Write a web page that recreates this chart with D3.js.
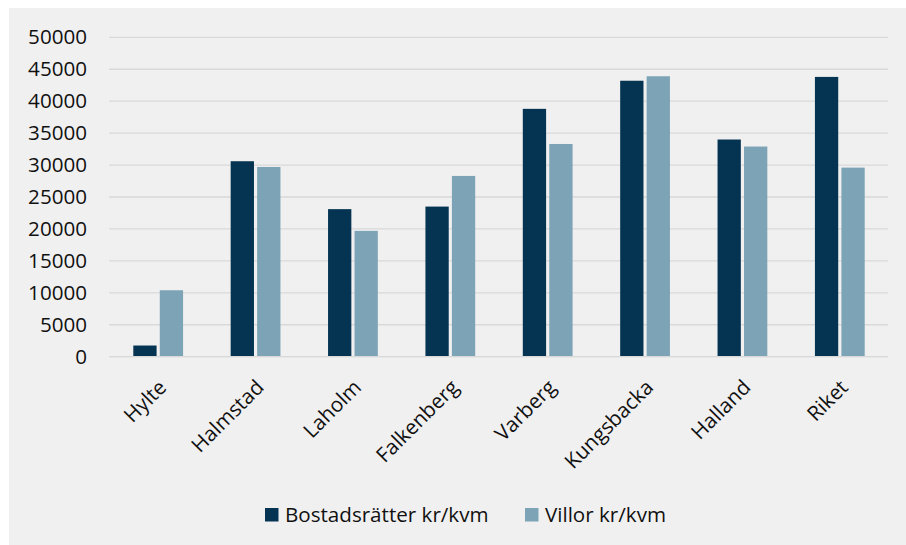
<!DOCTYPE html>
<html>
<head>
<meta charset="utf-8">
<script src="https://cdn.jsdelivr.net/npm/d3@7"></script>
<style>
  html, body { margin: 0; padding: 0; background: #ffffff; }
  svg { display: block; }
  text { font-family: "Open Sans", "Noto Sans", sans-serif; fill: #111111; }
</style>
</head>
<body>
<svg id="chart" width="906" height="545"></svg>
<script>
// Price per square metre by municipality
const categories = ["Hylte", "Halmstad", "Laholm", "Falkenberg", "Varberg", "Kungsbacka", "Halland", "Riket"];
const bostadsratter = [1750, 30600, 23100, 23500, 38800, 43200, 34000, 43800];
const villor = [10400, 29700, 19700, 28300, 33300, 43900, 32900, 29600];
const seriesNames = ["Bostadsrätter kr/kvm", "Villor kr/kvm"];
const seriesColors = ["#053452", "#7ca3b6"];
const yTicks = [0, 5000, 10000, 15000, 20000, 25000, 30000, 35000, 40000, 45000, 50000];

const svg = d3.select("#chart");
const W = 906, H = 545;
const FS = 20.6;

// panel background
svg.append("rect").attr("x", 9).attr("y", 8).attr("width", W - 9).attr("height", H - 8)
  .attr("fill", "#f0f0f0");

const plot = { left: 109, right: 888, top: 37.3, bottom: 356.7 };

const x = d3.scaleBand().domain(categories).range([plot.left, plot.right]).paddingInner(0).paddingOuter(0);
const x1 = d3.scaleBand().domain(seriesNames).range([24.3, x.bandwidth() - 23.3]).paddingInner(0.12);
const y = d3.scaleLinear().domain([0, 50000]).range([plot.bottom, plot.top]);

// gridlines
svg.append("g").selectAll("line").data(yTicks).join("line")
  .attr("x1", plot.left).attr("x2", plot.right)
  .attr("y1", d => y(d)).attr("y2", d => y(d))
  .attr("stroke", "#d9d9d9").attr("stroke-width", 1.3);

// y axis labels
const yAxis = d3.axisLeft(y).tickValues(yTicks).tickSize(0).tickPadding(0).tickFormat(d3.format("d"));
const gy = svg.append("g").attr("transform", `translate(${plot.left - 22},0)`).call(yAxis);
gy.select(".domain").remove();
gy.selectAll("text").attr("font-size", FS).attr("fill", "#111111")
  .style("font-family", "'Open Sans', sans-serif");

// bars
const rows = categories.map((c, i) => ({ c, vals: [bostadsratter[i], villor[i]] }));
const groups = svg.append("g").selectAll("g").data(rows).join("g")
  .attr("transform", d => `translate(${x(d.c)},0)`);
groups.selectAll("rect").data(d => d.vals.map((v, j) => ({ v, s: seriesNames[j], j })))
  .join("rect")
  .attr("x", d => x1(d.s))
  .attr("width", x1.bandwidth())
  .attr("y", d => y(d.v))
  .attr("height", d => y(0) - y(d.v))
  .attr("fill", d => seriesColors[d.j]);

// baseline
svg.append("line").attr("x1", plot.left).attr("x2", plot.right)
  .attr("y1", y(0)).attr("y2", y(0)).attr("stroke", "#d9d9d9").attr("stroke-width", 1.3);

// x axis labels, rotated
const xAxis = d3.axisBottom(x).tickSize(0).tickPadding(0);
const gx = svg.append("g").attr("transform", `translate(0,${plot.bottom})`).call(xAxis);
gx.select(".domain").remove();
gx.selectAll("text")
  .attr("font-size", FS).attr("fill", "#111111")
  .style("font-family", "'Open Sans', sans-serif")
  .attr("text-anchor", "end")
  .attr("dy", null)
  .attr("y", 0)
  .attr("transform", "translate(10,32) rotate(-45)");

// legend
const legend = svg.append("g");
const legendItems = [
  { name: seriesNames[0], color: seriesColors[0], x: 265 },
  { name: seriesNames[1], color: seriesColors[1], x: 525 }
];
const li = legend.selectAll("g").data(legendItems).join("g")
  .attr("transform", d => `translate(${d.x},508)`);
li.append("rect").attr("width", 13.5).attr("height", 13.5).attr("fill", d => d.color);
li.append("text").attr("x", 20).attr("y", 14).attr("font-size", FS)
  .attr("fill", "#111111").text(d => d.name);
</script>
</body>
</html>
